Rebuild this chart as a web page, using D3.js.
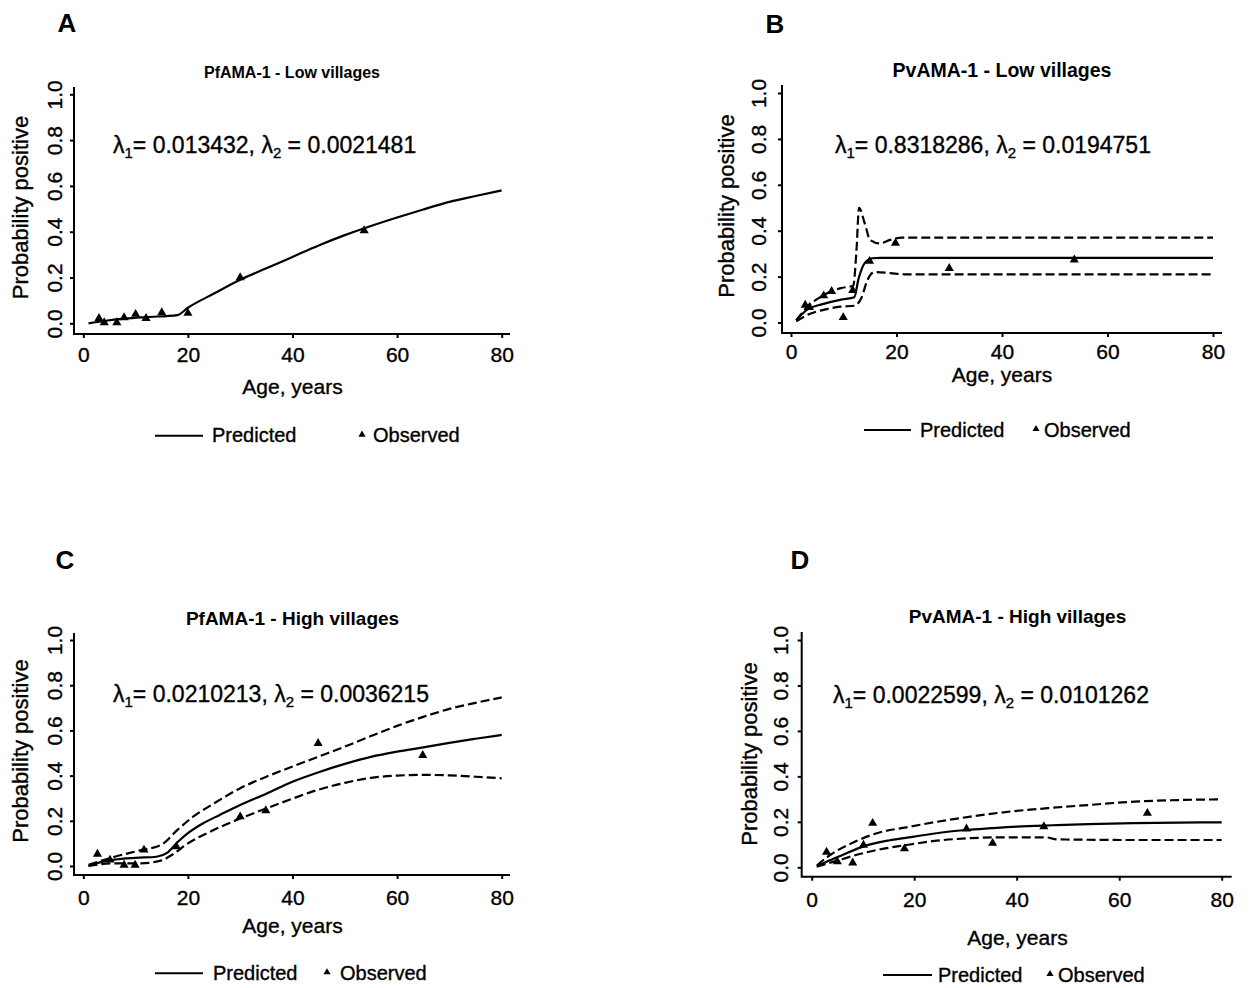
<!DOCTYPE html>
<html>
<head>
<meta charset="utf-8">
<script src="https://cdn.jsdelivr.net/npm/d3@7"></script>
<style>
body { margin: 0; background: #fff; }
text { font-family: "Liberation Sans", Arial, sans-serif; fill: #000; stroke: #000; stroke-width: 0.35px; }
text.bold { stroke-width: 0; }
</style>
</head>
<body>
<svg id="chart" width="1255" height="988"></svg>
<script>
// ---- data (age in years, probability positive) ----
// A: PfAMA-1, low villages
var aPredAge = [1, 4, 8, 12, 18, 20, 25, 30, 35, 40, 45, 50, 55, 60, 65, 70, 75, 80];
var aPred    = [0.0, 0.01, 0.02, 0.027, 0.036, 0.068, 0.13, 0.19, 0.24, 0.29, 0.34, 0.385, 0.425, 0.462, 0.497, 0.53, 0.556, 0.58];
var aObsAge  = [3, 4, 6.4, 7.8, 10, 12, 15, 20, 30, 53.7];
var aObs     = [0.022, 0.003, 0.003, 0.025, 0.04, 0.022, 0.047, 0.044, 0.2, 0.405];

// B: PvAMA-1, low villages
var bPredAge  = [1, 3, 6, 9.5, 12, 12.8, 14, 15.4, 17, 80];
var bPred     = [0.01, 0.055, 0.08, 0.10, 0.11, 0.19, 0.26, 0.28, 0.282, 0.282];
var bUpperAge = [1, 3, 6, 9.5, 11.8, 12.4, 12.9, 14, 15, 16.8, 18.8, 21, 80];
var bUpper    = [0.01, 0.066, 0.117, 0.15, 0.16, 0.31, 0.50, 0.43, 0.36, 0.345, 0.36, 0.37, 0.37];
var bLowerAge = [1, 3.4, 6, 9.4, 12, 13.4, 14.4, 15.8, 18.8, 21.5, 80];
var bLower    = [0.005, 0.036, 0.054, 0.069, 0.073, 0.11, 0.18, 0.22, 0.215, 0.21, 0.21];
var bObsAge   = [2.7, 3.5, 6.2, 7.7, 9.9, 11.7, 14.9, 19.8, 30, 53.7];
var bObs      = [0.076, 0.066, 0.117, 0.136, 0.022, 0.14, 0.267, 0.346, 0.236, 0.273];

// C: PfAMA-1, high villages
var cPredAge  = [1, 3, 6, 10, 14, 16, 18, 20, 23, 26, 30, 35, 40, 45, 50, 55, 60, 65, 70, 75, 80];
var cPred     = [0.0, 0.015, 0.028, 0.036, 0.041, 0.058, 0.105, 0.145, 0.19, 0.225, 0.27, 0.32, 0.373, 0.415, 0.452, 0.483, 0.506, 0.525, 0.545, 0.563, 0.58];
var cUpperAge = [1, 6, 11, 15, 18, 21, 25, 30, 35, 40, 45, 50, 55, 60, 65, 70, 75, 80];
var cUpper    = [0.005, 0.041, 0.07, 0.095, 0.16, 0.218, 0.277, 0.344, 0.395, 0.44, 0.484, 0.528, 0.575, 0.62, 0.66, 0.695, 0.722, 0.746];
var cLowerAge = [1, 6, 11, 15, 17, 20, 25, 30, 35, 40, 45, 50, 55, 60, 65, 70, 75, 80];
var cLower    = [0.0, 0.012, 0.012, 0.025, 0.05, 0.1, 0.16, 0.21, 0.255, 0.298, 0.338, 0.368, 0.39, 0.4, 0.403, 0.401, 0.395, 0.388];
var cObsAge   = [2.7, 5.1, 7.8, 9.9, 11.6, 17.8, 30, 34.9, 44.9, 64.9];
var cObs      = [0.053, 0.027, 0.004, 0.004, 0.071, 0.086, 0.218, 0.245, 0.543, 0.49];

// D: PvAMA-1, high villages
var dPredAge  = [1, 3, 6, 10, 15, 20, 25, 30, 35, 40, 47, 54, 63, 80];
var dPred     = [0.003, 0.025, 0.054, 0.091, 0.118, 0.135, 0.152, 0.164, 0.172, 0.179, 0.185, 0.19, 0.194, 0.198];
var dUpperAge = [1, 3.6, 8, 12.7, 18.5, 24.4, 31, 37.4, 46, 54, 63, 80];
var dUpper    = [0.008, 0.054, 0.108, 0.15, 0.176, 0.2, 0.223, 0.242, 0.26, 0.274, 0.289, 0.299];
var dLowerAge = [1, 3.6, 8, 12.7, 18.5, 24.4, 31, 37.4, 45.5, 48, 63, 80];
var dLower    = [0.003, 0.02, 0.05, 0.076, 0.098, 0.117, 0.128, 0.132, 0.132, 0.123, 0.12, 0.12];
var dObsAge   = [2.9, 5, 8, 10.1, 11.9, 18.1, 30.2, 35.3, 45.3, 65.5];
var dObs      = [0.067, 0.025, 0.02, 0.098, 0.194, 0.082, 0.169, 0.106, 0.179, 0.238];

var xTicks = [0, 20, 40, 60, 80];
var yTicks = [0, 0.2, 0.4, 0.6, 0.8, 1.0];
var letters = ["A", "B", "C", "D"];
var titles = ["PfAMA-1 - Low villages", "PvAMA-1 - Low villages", "PfAMA-1 - High villages", "PvAMA-1 - High villages"];
var lambda1 = ["0.013432", "0.8318286", "0.0210213", "0.0022599"];
var lambda2 = ["0.0021481", "0.0194751", "0.0036215", "0.0101262"];

function zip(ax, ay) { return ax.map(function(v, i) { return [v, ay[i]]; }); }

// layout of the four panels (pixels)
var panels = [
  { letter: [67, 32], x0: 83.3, x1: 501.7, y0: 323.3, y1: 94.3, axX: 74, axY: 334, axTop: 87, axRight: 510,
    title: [292, 78, 16], lam: [113, 153], ytickX: 61.7, ylab: [28.3, 207.5], xtickY: 362, xlab: [292.5, 394],
    leg: { y: 435.7, l0: 155, l1: 203, px: 212, tx: 362, ox: 373, by: 442.3 },
    pred: zip(aPredAge, aPred), obs: zip(aObsAge, aObs) },
  { letter: [775, 33], x0: 791, x1: 1213, y0: 322.5, y1: 93, axX: 782, axY: 333, axTop: 85, axRight: 1222,
    title: [1002, 77, 19.5], lam: [835, 153], ytickX: 766, ylab: [734, 206], xtickY: 358.5, xlab: [1002, 382],
    leg: { y: 430, l0: 864, l1: 911, px: 920, tx: 1036, ox: 1044, by: 436.7 },
    pred: zip(bPredAge, bPred), upper: zip(bUpperAge, bUpper), lower: zip(bLowerAge, bLower), obs: zip(bObsAge, bObs) },
  { letter: [65, 569], x0: 83.3, x1: 501.7, y0: 866, y1: 640, axX: 74, axY: 875, axTop: 633, axRight: 510,
    title: [292.5, 625, 19], lam: [113, 702], ytickX: 61.7, ylab: [28.3, 751], xtickY: 905, xlab: [292.5, 933],
    leg: { y: 973.3, l0: 155, l1: 203, px: 213, tx: 327, ox: 340, by: 980 },
    pred: zip(cPredAge, cPred), upper: zip(cUpperAge, cUpper), lower: zip(cLowerAge, cLower), obs: zip(cObsAge, cObs) },
  { letter: [800, 569], x0: 811.7, x1: 1221.7, y0: 867.3, y1: 640, axX: 801.7, axY: 876.7, axTop: 632, axRight: 1231.7,
    title: [1017.5, 623, 19], lam: [833, 703], ytickX: 788, ylab: [756.7, 754], xtickY: 906.7, xlab: [1017.5, 945],
    leg: { y: 975, l0: 883, l1: 932, px: 938, tx: 1050, ox: 1058, by: 981.7 },
    pred: zip(dPredAge, dPred), upper: zip(dUpperAge, dUpper), lower: zip(dLowerAge, dLower), obs: zip(dObsAge, dObs) }
];

var svg = d3.select("#chart");
svg.append("rect").attr("width", 1255).attr("height", 988).attr("fill", "#fff");

var tri = d3.symbol().type(d3.symbolTriangle).size(36);
var triSmall = d3.symbol().type(d3.symbolTriangle).size(22);

panels.forEach(function(p, i) {
  var g = svg.append("g");
  var x = d3.scaleLinear().domain([0, 80]).range([p.x0, p.x1]);
  var y = d3.scaleLinear().domain([0, 1]).range([p.y0, p.y1]);

  // panel letter
  g.append("text").attr("class", "bold").attr("x", p.letter[0]).attr("y", p.letter[1])
    .attr("text-anchor", "middle").attr("font-size", 26).attr("font-weight", "bold").text(letters[i]);

  // title
  g.append("text").attr("class", "bold").attr("x", p.title[0]).attr("y", p.title[1])
    .attr("text-anchor", "middle").attr("font-size", p.title[2]).attr("font-weight", "bold").text(titles[i]);

  // axes
  var xa = g.append("g").attr("transform", "translate(0," + p.axY + ")")
    .call(d3.axisBottom(x).tickValues(xTicks).tickSize(4).tickFormat(d3.format("d")));
  xa.select(".domain").remove();
  xa.selectAll(".tick line").attr("stroke-width", 2);
  xa.selectAll(".tick text").attr("y", p.xtickY - p.axY).attr("dy", 0)
    .attr("font-size", 21).attr("font-family", null).attr("fill", "#000");

  var ya = g.append("g").attr("transform", "translate(" + p.axX + ",0)")
    .call(d3.axisLeft(y).tickValues(yTicks).tickSize(4).tickFormat(d3.format(".1f")));
  ya.select(".domain").remove();
  ya.selectAll(".tick line").attr("stroke-width", 2);
  ya.selectAll(".tick text").attr("transform", "rotate(-90)")
    .attr("x", 0).attr("y", p.ytickX - p.axX).attr("dy", 0).attr("text-anchor", "middle")
    .attr("font-size", 21).attr("font-family", null).attr("fill", "#000");

  g.append("path").attr("fill", "none").attr("stroke", "#000").attr("stroke-width", 2)
    .attr("d", "M" + p.axX + "," + p.axTop + "V" + p.axY + "H" + p.axRight);

  // axis titles
  g.append("text").attr("transform", "translate(" + p.ylab[0] + "," + p.ylab[1] + ") rotate(-90)")
    .attr("text-anchor", "middle").attr("font-size", 22).text("Probability positive");
  g.append("text").attr("x", p.xlab[0]).attr("y", p.xlab[1])
    .attr("text-anchor", "middle").attr("font-size", 21).text("Age, years");

  // lambda annotation
  var lt = g.append("text").attr("x", p.lam[0]).attr("y", p.lam[1]).attr("font-size", 23);
  lt.append("tspan").text("\u03bb");
  lt.append("tspan").attr("font-size", 15).attr("dy", 5).text("1");
  lt.append("tspan").attr("dy", -5).text("= " + lambda1[i] + ", \u03bb");
  lt.append("tspan").attr("font-size", 15).attr("dy", 5).text("2");
  lt.append("tspan").attr("dy", -5).text(" = " + lambda2[i]);

  // curves
  var line = d3.line().x(function(d) { return x(d[0]); }).y(function(d) { return y(d[1]); })
    .curve(d3.curveMonotoneX);
  [p.upper, p.lower].forEach(function(band) {
    if (!band) return;
    g.append("path").datum(band).attr("fill", "none").attr("stroke", "#000")
      .attr("stroke-width", 2.2).attr("stroke-dasharray", "9,4").attr("d", line);
  });
  g.append("path").datum(p.pred).attr("fill", "none").attr("stroke", "#000")
    .attr("stroke-width", 2.2).attr("d", line);

  g.selectAll(".obs").data(p.obs).enter().append("path")
    .attr("class", "obs")
    .attr("transform", function(d) { return "translate(" + x(d[0]) + "," + y(d[1]) + ")"; })
    .attr("d", tri).attr("fill", "#000");

  // legend
  var L = p.leg;
  g.append("line").attr("x1", L.l0).attr("x2", L.l1).attr("y1", L.y).attr("y2", L.y)
    .attr("stroke", "#000").attr("stroke-width", 2);
  g.append("text").attr("x", L.px).attr("y", L.by).attr("font-size", 20).text("Predicted");
  g.append("path").attr("transform", "translate(" + L.tx + "," + (L.y - 1) + ")").attr("d", triSmall).attr("fill", "#000");
  g.append("text").attr("x", L.ox).attr("y", L.by).attr("font-size", 20).text("Observed");
});
</script>
</body>
</html>
